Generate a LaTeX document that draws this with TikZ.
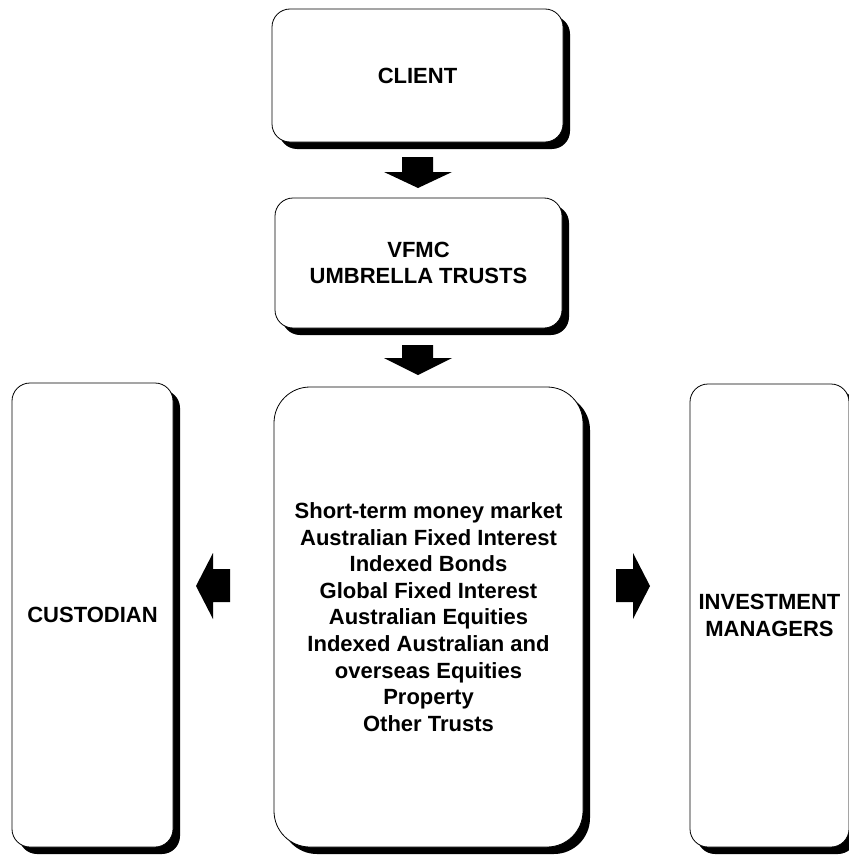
\documentclass[tikz,border=0pt]{standalone}
\usepackage{fontspec}
\setmainfont{Liberation Sans}
\usetikzlibrary{shadows}
\begin{document}
\begin{tikzpicture}[x=1pt,y=-1pt,
  box/.style={draw=black, line width=0.8pt, fill=white, rounded corners=18pt,
    inner sep=0pt, align=center,
    font={\fontsize{22}{26.6}\selectfont\bfseries},
    general shadow={fill=black, shadow xshift=7pt, shadow yshift=-7pt}},
  blockarrow/.style={fill=black, draw=none}]
\useasboundingbox (0,0) rectangle (848,856);
\node[box, minimum width=291pt, minimum height=133pt] (client) at (417.5,75.5) {CLIENT};
\node[box, minimum width=287pt, minimum height=130pt] (vfmc) at (418.5,263) {VFMC\\UMBRELLA TRUSTS};
\node[box, rounded corners=36pt, minimum width=309pt, minimum height=460pt] (mid) at (428.5,617)
  {Short-term money market\\Australian Fixed Interest\\Indexed Bonds\\Global Fixed Interest\\Australian Equities\\Indexed Australian and\\overseas Equities\\Property\\Other Trusts};
\node[box, minimum width=161pt, minimum height=464pt] (cust) at (92.5,615) {CUSTODIAN};
\node[box, minimum width=159pt, minimum height=463pt] (inv) at (769.5,615.5) {INVESTMENT\\MANAGERS};
% block arrows
\fill[blockarrow] (402,157) -- (433,157) -- (433,172) -- (452,172) -- (418,188) -- (384,172) -- (402,172) -- cycle;
\fill[blockarrow] (402,345) -- (433,345) -- (433,358) -- (452,358) -- (418,375) -- (384,358) -- (402,358) -- cycle;
\fill[blockarrow] (230,569) -- (213,569) -- (213,553) -- (196,586) -- (213,619) -- (213,602) -- (230,602) -- cycle;
\fill[blockarrow] (616,569) -- (633,569) -- (633,553) -- (650,586) -- (633,619) -- (633,602) -- (616,602) -- cycle;
\end{tikzpicture}
\end{document}
